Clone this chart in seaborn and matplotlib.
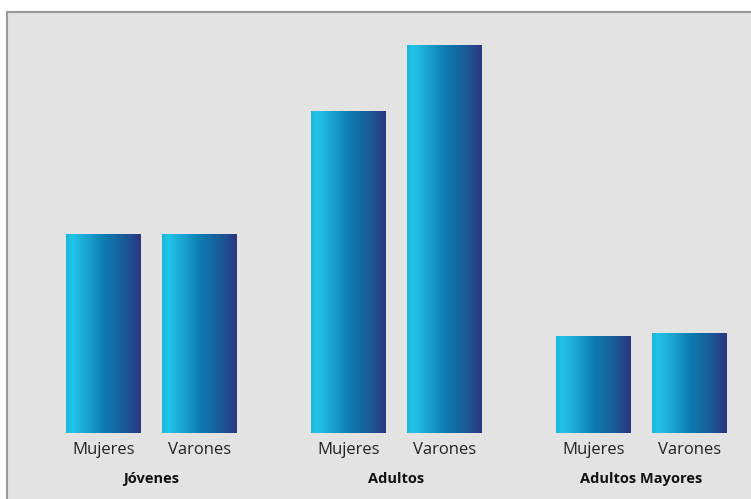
import numpy as np
import pandas as pd
import matplotlib
matplotlib.use("Agg")
import matplotlib.pyplot as plt
from matplotlib.colors import LinearSegmentedColormap
import seaborn as sns

# Data (relative heights)
grupos = ["Jóvenes", "Adultos", "Adultos Mayores"]
sexos = ["Mujeres", "Varones"]
mujeres = [199, 322, 97]
varones = [199, 388, 100]

df = pd.DataFrame({
    "grupo": grupos * 2,
    "sexo": [sexos[0]] * 3 + [sexos[1]] * 3,
    "valor": mujeres + varones,
})

sns.set_theme(style="white")
plt.rcParams["font.family"] = ["Open Sans", "DejaVu Sans"]

fig = plt.figure(figsize=(7.51, 4.99), dpi=100)
fig.patch.set_facecolor("white")
ax = fig.add_axes([7 / 751, 0, 744 / 751, 487 / 499])
ax.set_facecolor("#e3e3e3")

sns.barplot(data=df, x="grupo", y="valor", hue="sexo", order=grupos,
            hue_order=sexos, width=0.784, gap=0.22,
            palette=["#1488c0", "#1488c0"], legend=False, ax=ax)

ax.set_xlim(-0.5898, 2.447)
ax.set_ylim(-66, 421)

# horizontal gradient inside each bar
cmap = LinearSegmentedColormap.from_list("barra", [
    (0.0, "#1cb4dc"), (0.08, "#22c4e8"), (0.3, "#1aa0cc"),
    (0.5, "#0d7db2"), (0.78, "#1a5b98"), (1.0, "#2c3680")])
grad = np.linspace(0, 1, 256).reshape(1, -1)
bars = sorted([p for p in ax.patches if p.get_height() > 0], key=lambda p: p.get_x())
for p in bars:
    x0, w, h = p.get_x(), p.get_width(), p.get_height()
    p.set_facecolor("none")
    p.set_edgecolor("none")
    im = ax.imshow(grad, cmap=cmap, aspect="auto", extent=[x0, x0 + w, 0, h],
                   zorder=2, interpolation="bicubic")
    im.set_clip_path(p)

# category labels under bars
for i, p in enumerate(bars):
    ax.text(p.get_x() + p.get_width() / 2, -17, sexos[i % 2], ha="center",
            va="center", fontsize=12, color="#222222")
for i, g in enumerate(grupos):
    ax.text(i, -46, g, ha="center", va="center", fontsize=10.5,
            fontweight="bold", color="#111111")

ax.set_xticks([])
ax.set_yticks([])
ax.set_xlabel("")
ax.set_ylabel("")
for s in ["right", "bottom"]:
    ax.spines[s].set_visible(False)
for s in ["left", "top"]:
    ax.spines[s].set_color("#9a9a9a")
    ax.spines[s].set_linewidth(1.5)

fig.savefig("out.png", dpi=100)
